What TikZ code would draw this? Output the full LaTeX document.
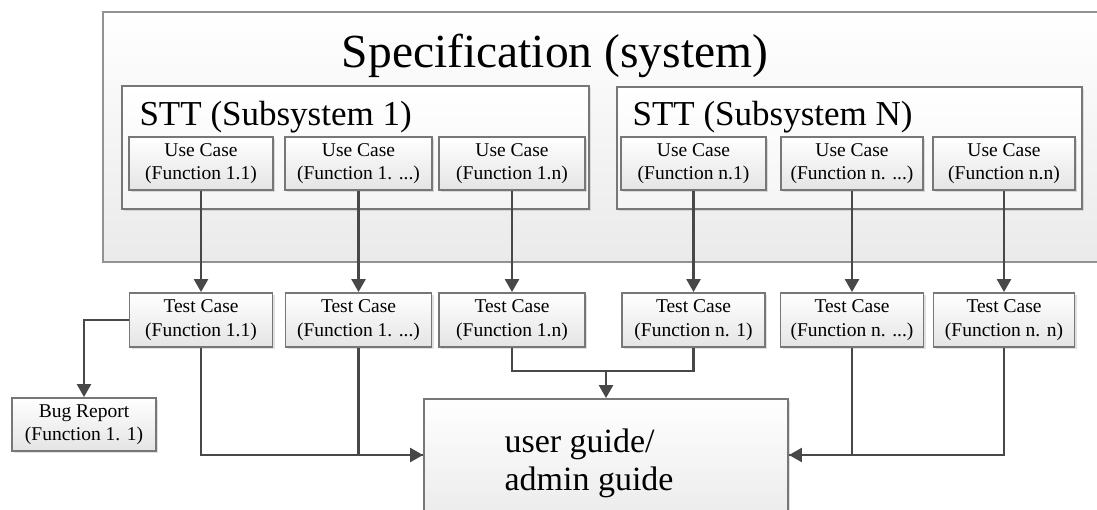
\documentclass[tikz,border=0pt]{standalone}
\usepackage{fontspec}
\setmainfont{Liberation Serif}
\usetikzlibrary{arrows.meta,shadows}
\definecolor{boxline}{HTML}{777777}
\definecolor{wire}{HTML}{484848}
\definecolor{panelbot}{HTML}{EAEAEA}
\definecolor{cardbot}{HTML}{E4E4E4}
\tikzset{
  card/.style={draw=boxline, line width=1.9pt, inner sep=0pt,
    top color=white, bottom color=cardbot, align=center,
    drop shadow={shadow xshift=2pt, shadow yshift=-2pt, fill=black, opacity=0.12},
    font=\fontsize{19.5}{23.5}\selectfont},
  panel/.style={draw=boxline!80, line width=1.8pt, inner sep=0pt,
    top color=white, bottom color=panelbot},
  group/.style={draw=boxline, line width=1.9pt, inner sep=0pt,
    top color=white, bottom color=black!4,
    drop shadow={shadow xshift=2pt, shadow yshift=-2pt, fill=black, opacity=0.10}},
  wireline/.style={draw=wire, line width=2.5pt},
  tip/.style={wireline, -{Triangle[width=14pt,length=13pt]}}
}
\begin{document}
\begin{tikzpicture}[x=1pt,y=-1pt]
\useasboundingbox (0,0) rectangle (1097,509);
\clip (0,0) rectangle (1097,509);

% system panel (runs off the right edge)
\node[panel, minimum width=1017pt, minimum height=250pt] (sys) at (611.5,137) {};
\node[anchor=base, font=\fontsize{47.5}{50}\selectfont] (systitle) at (555,67) {Specification (system)};

% subsystem groups
\node[group, minimum width=467pt, minimum height=123pt] (stt1) at (355.5,147.5) {};
\node[group, minimum width=465pt, minimum height=122pt] (sttn) at (849.5,148) {};
\node[anchor=base west, font=\fontsize{35}{38}\selectfont] (stt1t) at (136,125) {STT (Subsystem 1)};
\node[anchor=base west, font=\fontsize{35}{38}\selectfont] (sttnt) at (629,125) {STT (Subsystem N)};

% use cases
\node[card, minimum width=144pt, minimum height=53pt] (uc11) at (201,163.5) {Use Case\\(Function 1.1)};
\node[card, minimum width=147pt, minimum height=53pt] (uc12) at (358.5,163.5) {Use Case\\(Function 1. ...)};
\node[card, minimum width=146pt, minimum height=53pt] (uc1n) at (512,163.5) {Use Case\\(Function 1.n)};
\node[card, minimum width=145pt, minimum height=53pt] (ucn1) at (693.5,163.5) {Use Case\\(Function n.1)};
\node[card, minimum width=142pt, minimum height=53pt] (ucn2) at (852,163.5) {Use Case\\(Function n. ...)};
\node[card, minimum width=142pt, minimum height=53pt] (ucnn) at (1004,163.5) {Use Case\\(Function n.n)};

% test cases
\node[card, minimum width=143pt, minimum height=54pt] (tc11) at (201,320) {Test Case\\(Function 1.1)};
\node[card, minimum width=146pt, minimum height=54pt] (tc12) at (358.5,320) {Test Case\\(Function 1. ...)};
\node[card, minimum width=146pt, minimum height=54pt] (tc1n) at (512,320) {Test Case\\(Function 1.n)};
\node[card, minimum width=143pt, minimum height=54pt] (tcn1) at (693.5,320) {Test Case\\(Function n. 1)};
\node[card, minimum width=143pt, minimum height=54pt] (tcn2) at (852,320) {Test Case\\(Function n. ...)};
\node[card, minimum width=141pt, minimum height=54pt] (tcnn) at (1004,320) {Test Case\\(Function n. n)};

% bug report and guide
\node[card, minimum width=144pt, minimum height=53pt] (bug) at (84,424.5) {Bug Report\\(Function 1. 1)};
\node[card, minimum width=364pt, minimum height=161pt] (ug) at (606,479.5) {};
\node[anchor=base west, font=\fontsize{34}{38}\selectfont] (ugl1) at (501,452) {user guide/};
\node[anchor=base west, font=\fontsize{34}{38}\selectfont] (ugl2) at (501,490) {admin guide};

% junction points
\coordinate (inL) at (ug.west |- 0,455);
\coordinate (inR) at (ug.east |- 0,455);
\coordinate (mrg) at (ug.north |- 0,371);

% use case -> test case
\foreach \a/\b in {uc11/tc11, uc12/tc12, uc1n/tc1n, ucn1/tcn1, ucn2/tcn2, ucnn/tcnn}
  \draw[tip] (\a.south) -- (\b.north);

% test case -> bug report
\draw[tip] (tc11.west) -| (bug.north);

% test cases -> guide
\draw[wireline] (tc11.south) |- (inL);
\draw[tip] (tc12.south) |- (inL);
\draw[wireline] (tc1n.south) |- (mrg) -| (tcn1.south);
\draw[tip] (mrg) -- (ug.north);
\draw[wireline] (tcnn.south) |- (inR);
\draw[tip] (tcn2.south) |- (inR);
\end{tikzpicture}
\end{document}
